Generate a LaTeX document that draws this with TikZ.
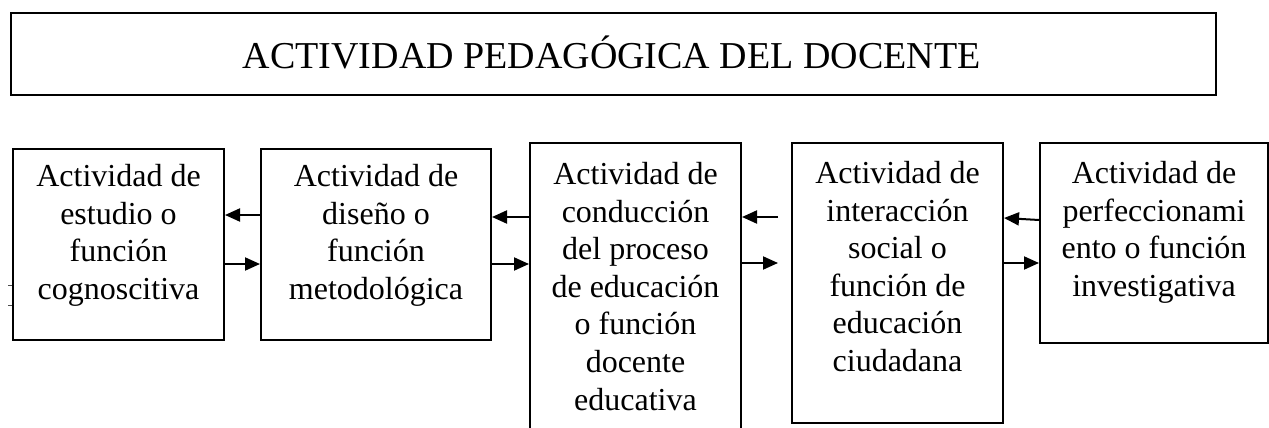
\documentclass[tikz,border=0pt]{standalone}
\usepackage{fontspec}
\setmainfont{Liberation Serif}
\usetikzlibrary{arrows.meta}
\tikzset{
  boxshape/.style={draw, line width=2pt, inner sep=0pt, anchor=north west, rectangle},
  titlebox/.style={draw, line width=2.4pt, inner sep=0pt, anchor=north west, rectangle},
  txt/.style={inner sep=0pt, align=center, anchor=north, font=\fontsize{32}{37.6}\selectfont},
  arr/.style={line width=2pt, -{Triangle[length=15pt,width=13pt]}},
  tick/.style={line width=0.8pt, draw=black!70}
}
\begin{document}
\begin{tikzpicture}[x=1pt,y=-1pt]
\useasboundingbox (0,0) rectangle (1269,428);
\clip (0,0) rectangle (1269,428);
% title
\node[titlebox, minimum width=1205pt, minimum height=82pt] (T) at (10,12) {};
\node[anchor=base, inner sep=0pt, font=\fontsize{38}{45}\selectfont] (TT) at ([yshift=-14pt,xshift=-2pt]T.center) {ACTIVIDAD PEDAGÓGICA DEL DOCENTE};
% boxes
\node[boxshape, minimum width=211pt, minimum height=191pt] (b1) at (12,148) {};
\node[boxshape, minimum width=230pt, minimum height=191pt] (b2) at (260,148) {};
\node[boxshape, minimum width=211pt, minimum height=310pt] (b3) at (529,142) {};
\node[boxshape, minimum width=211pt, minimum height=280pt] (b4) at (791,142) {};
\node[boxshape, minimum width=228pt, minimum height=200pt] (b5) at (1039,142) {};
% texts
\node[txt] (t1) at ([yshift=-16pt]b1.north) {Actividad de\\estudio o\\función\\cognoscitiva};
\node[txt] (t2) at ([yshift=-16pt]b2.north) {Actividad de\\diseño o\\función\\metodológica};
\node[txt] (t3) at ([yshift=-20pt]b3.north) {Actividad de\\conducción\\del proceso\\de educación\\o función\\docente\\educativa};
\node[txt] (t4) at ([yshift=-19pt]b4.north) {Actividad de\\interacción\\social o\\función de\\educación\\ciudadana};
\node[txt] (t5) at ([yshift=-19pt]b5.north) {Actividad de\\perfeccionami\\ento o función\\investigativa};
% arrow levels
\coordinate (ya) at (0,215);
\coordinate (yb) at (0,264);
\coordinate (yc) at (0,217);
\coordinate (yd) at (0,263);
\coordinate (ye) at (0,220);
\coordinate (yf) at (0,218);
\coordinate (p34a) at (778,217);
\coordinate (p34b) at (778,263);
% connectors
\draw[arr] (b2.west |- ya) -- (b1.east |- ya);
\draw[arr] (b1.east |- yb) -- (b2.west |- yb);
\draw[arr] (b3.west |- yc) -- (b2.east |- yc);
\draw[arr] (b2.east |- yb) -- (b3.west |- yb);
\draw[arr] (p34a) -- (b3.east |- p34a);
\draw[arr] (b3.east |- p34b) -- (p34b);
\draw[arr] (b5.west |- ye) -- (b4.east |- yf);
\draw[arr] (b4.east |- yd) -- (b5.west |- yd);
% small marks at left
\draw[tick] (8,285) -- (b1.west |- 0,285);
\draw[tick] (8,305) -- (b1.west |- 0,305);
\end{tikzpicture}
\end{document}
